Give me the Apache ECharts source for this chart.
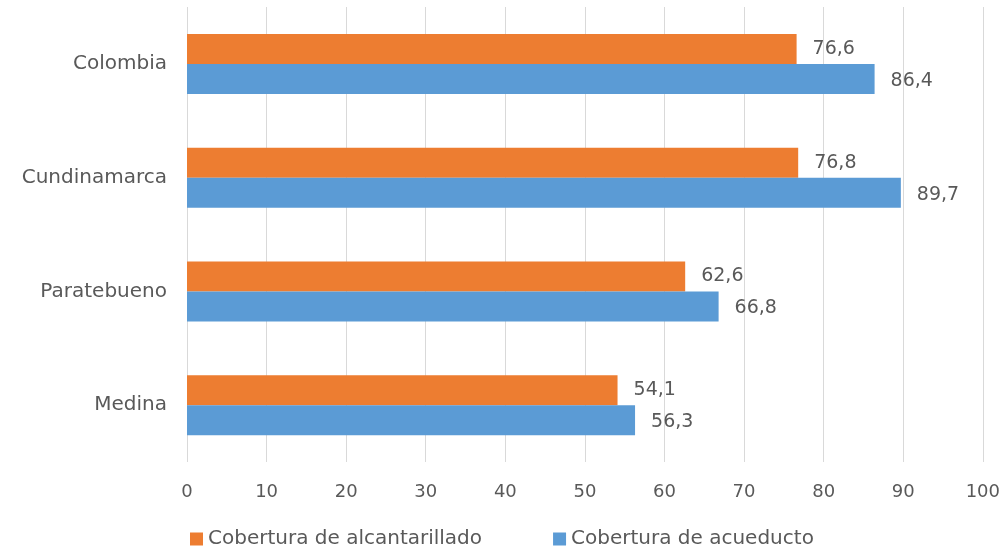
<!DOCTYPE html>
<html>
<head>
<meta charset="utf-8">
<title>Cobertura</title>
<script src="https://cdn.jsdelivr.net/npm/echarts@6/dist/echarts.min.js"></script>
<style>
    html, body { margin: 0; padding: 0; background: #fff; }
    #chart { width: 1003px; height: 550px; }
</style>
</head>
<body>
<div id="chart"></div>
<script>
'use strict';

// categorias (de abajo hacia arriba, como en el eje)
var categorias = ['Medina', 'Paratebueno', 'Cundinamarca', 'Colombia'];

// datos por serie
var alcantarillado = [54.1, 62.6, 76.8, 76.6];
var acueducto = [56.3, 66.8, 89.7, 86.4];

var nombreAlc = 'Cobertura de alcantarillado';
var nombreAcu = 'Cobertura de acueducto';

var fuente = 'DejaVu Sans';
var gris = '#595959';

// etiqueta con coma decimal
var etiqueta = function(p){
    return String(p.value).replace('.', ',');
};

var chart = echarts.init(document.getElementById('chart'));

var option = {
    animation: false,
    textStyle: { fontFamily: fuente },
    grid: {
        left: 187,
        right: 19,
        top: 7,
        bottom: 88
    },
    legend: {
        data: [nombreAlc, nombreAcu],
        bottom: -4,
        left: 185,
        icon: 'rect',
        itemWidth: 13,
        itemHeight: 13,
        itemGap: 71,
        textStyle: { color: gris, fontSize: 20, fontFamily: fuente }
    },
    xAxis: {
        type: 'value',
        min: 0,
        max: 100,
        interval: 10,
        axisLine: { show: false },
        axisTick: { show: false },
        splitLine: { lineStyle: { color: '#d9d9d9', width: 1 } },
        axisLabel: { color: gris, fontSize: 18, margin: 21 }
    },
    yAxis: {
        type: 'category',
        data: categorias,
        axisLine: { show: false },
        axisTick: { show: false },
        axisLabel: { color: gris, fontSize: 20, margin: 20 }
    },
    series: [
        {
            name: nombreAlc,
            type: 'bar',
            data: alcantarillado,
            barWidth: 30,
            barGap: '0%',
            itemStyle: { color: '#ED7D31' },
            label: {
                show: true,
                position: 'right',
                distance: 16,
                color: gris,
                fontSize: 19,
                formatter: etiqueta
            }
        },
        {
            name: nombreAcu,
            type: 'bar',
            data: acueducto,
            barWidth: 30,
            barGap: '0%',
            itemStyle: { color: '#5B9BD5' },
            label: {
                show: true,
                position: 'right',
                distance: 16,
                offset: [0, 2],
                color: gris,
                fontSize: 19,
                formatter: etiqueta
            }
        }
    ]
};

chart.setOption(option);
</script>
</body>
</html>
